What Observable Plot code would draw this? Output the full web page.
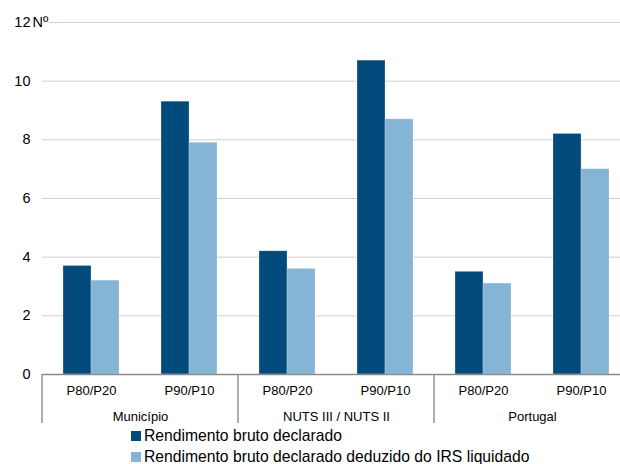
<!DOCTYPE html>
<html>
<head>
<meta charset="utf-8">
<script src="https://cdn.jsdelivr.net/npm/d3@7"></script>
<script src="https://cdn.jsdelivr.net/npm/@observablehq/plot@0.6"></script>
<style>
  html, body { margin: 0; padding: 0; background: #fff; }
  body { font-family: "Liberation Sans", Arial, sans-serif; width: 620px; overflow: hidden; }
  #legend { padding-left: 131px; font-size: 15.7px; color: #000; }
  #legend .row { height: 20.5px; line-height: 20.5px; display: flex; align-items: center; white-space: nowrap; }
  #legend .sw { width: 10px; height: 10px; margin-right: 3px; display: inline-block; }
</style>
</head>
<body>
<div id="chart"></div>
<div id="legend"></div>
<script>
const groups = ["Município", "NUTS III / NUTS II", "Portugal"];
const ratios = ["P80/P20", "P90/P10"];
const series = ["Rendimento bruto declarado", "Rendimento bruto declarado deduzido do IRS liquidado"];
const bruto = [3.7, 9.3, 4.2, 10.7, 3.5, 8.2];
const liquido = [3.2, 7.9, 3.6, 8.7, 3.1, 7.0];
const yTicks = [0, 2, 4, 6, 8, 10, 12];
const colors = ["#034a7c", "#86b4d4"];

const keys = [];
groups.forEach(g => ratios.forEach(r => keys.push(g + "|" + r)));
const rows = [];
keys.forEach((k, i) => {
  rows.push({key: k, series: series[0], value: bruto[i]});
  rows.push({key: k, series: series[1], value: liquido[i]});
});
const groupStarts = groups.map(g => ({key: g + "|" + ratios[0], label: g}));

const chart = Plot.plot({
  width: 620,
  height: 426,
  marginTop: 22,
  marginBottom: 52,
  marginLeft: 40,
  marginRight: 0,
  style: {fontFamily: "'Liberation Sans', Arial, sans-serif", color: "#000", background: "#fff"},
  fx: {domain: keys, range: [40, 631], padding: 0, label: null},
  x: {domain: series, paddingInner: 0, paddingOuter: 0.728, axis: null},
  y: {domain: [0, 12], label: null},
  color: {domain: series, range: colors},
  marks: [
    Plot.ruleY(yTicks.slice(1), {stroke: "#d0d0d0", strokeWidth: 1}),
    Plot.barY(rows, {fx: "key", x: "series", y: "value", fill: "series", stroke: "#fff", strokeOpacity: 0.3, strokeWidth: 0.8}),
    Plot.ruleY([0], {stroke: "#8a8a8a", strokeWidth: 1.4}),
    Plot.axisY({ticks: yTicks, tickSize: 0, tickPadding: 12, fontSize: 14.5, label: null}),
    Plot.axisFx({anchor: "bottom", tickSize: 0, tickPadding: 11, fontSize: 13, label: null, tickFormat: k => k.split("|")[1]}),
    Plot.text(groupStarts, {fx: "key", text: "label", frameAnchor: "bottom-right", textAnchor: "middle", lineAnchor: "middle", dy: 42, fontSize: 13, fill: "#000"}),
    Plot.text([{key: keys[0], t: "Nº"}], {fx: "key", y: () => 12, text: "t", frameAnchor: "left", textAnchor: "start", dx: -10, fontSize: 14.5, fill: "#000", stroke: "#fff", strokeWidth: 3, paintOrder: "stroke"})
  ]
});

// group separators drawn from the library's fx and y scales
const fx = chart.scale("fx");
const ys = chart.scale("y");
const y0 = ys.apply(0);
const bounds = groupStarts.map(d => fx.apply(d.key));
bounds.push(fx.apply(keys[keys.length - 1]) + fx.bandwidth);
const svg = d3.select(chart.tagName === "svg" ? chart : chart.querySelector("svg"));
svg.append("g").selectAll("line").data(bounds).join("line")
  .attr("x1", d => d).attr("x2", d => d)
  .attr("y1", y0).attr("y2", y0 + 49)
  .attr("stroke", "#8a8a8a").attr("stroke-width", 1.4);

document.getElementById("chart").appendChild(chart);

const legend = d3.select("#legend");
series.forEach((s, i) => {
  const row = legend.append("div").attr("class", "row");
  row.append("span").attr("class", "sw").style("background", colors[i]);
  row.append("span").text(s);
});
</script>
</body>
</html>
